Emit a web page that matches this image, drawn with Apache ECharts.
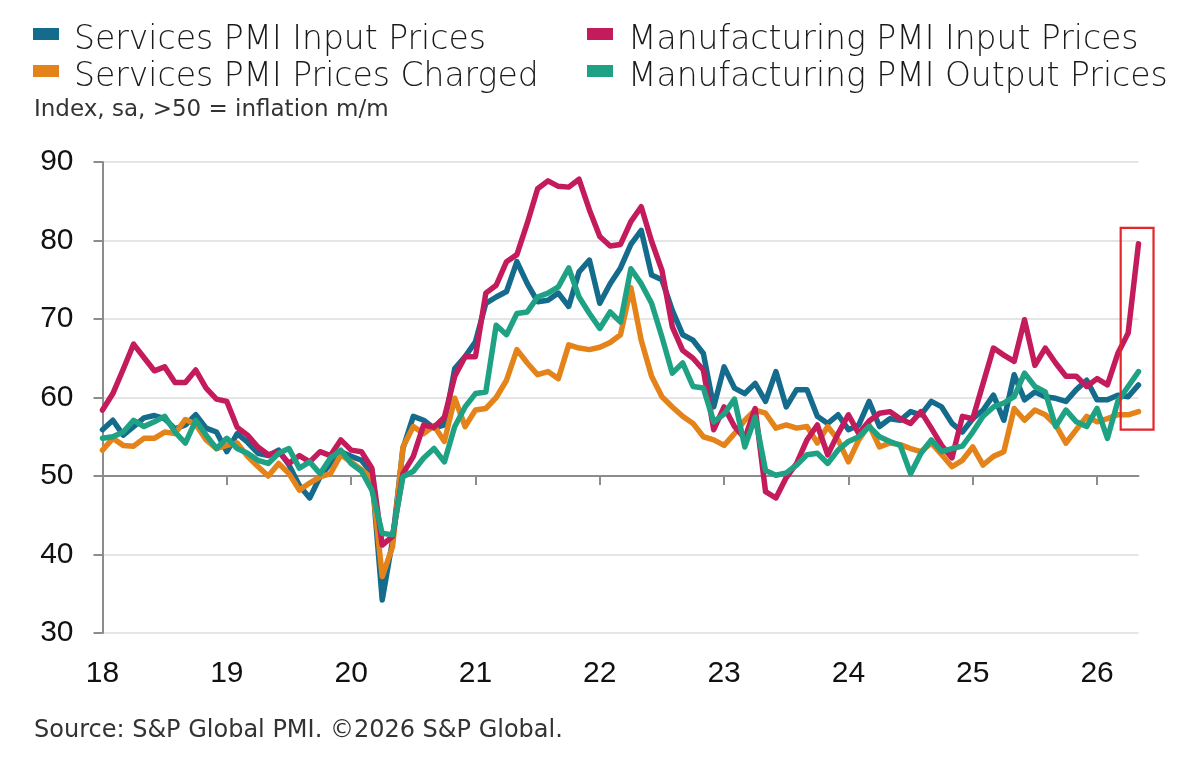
<!DOCTYPE html>
<html>
<head>
<meta charset="utf-8">
<script src="https://cdn.jsdelivr.net/npm/echarts@6/dist/echarts.min.js"></script>
<style>
html,body{margin:0;padding:0;background:#fff;}
#chart{width:1200px;height:766px;}
</style>
</head>
<body>
<div id="chart"></div>
<script>
// Monthly categories Jan 2018 .. May 2026
var startYear = 2018, nMonths = 101;
var categories = [];
for (var k = 0; k < nMonths; k++) {
  var y = startYear + Math.floor(k / 12), m = (k % 12) + 1;
  categories.push(y + '-' + (m < 10 ? '0' + m : m));
}
var yTicks = [30, 40, 50, 60, 70, 80, 90];

var servicesInput = [
  55.9, 57.1, 55.2, 56.3, 57.4, 57.7, 57.3, 56.0, 56.5, 57.8, 56.1, 55.6,
  53.1, 55.4, 54.3, 52.9, 52.6, 53.3, 51.4, 48.8, 47.2, 49.9, 51.6, 53.1,
  52.5, 52.0, 50.3, 34.2, 41.8, 53.5, 57.6, 57.1, 56.1, 56.5, 63.7, 65.2,
  67.1, 72.0, 72.8, 73.5, 77.3, 74.5, 72.2, 72.4, 73.3, 71.6, 76.0, 77.5,
  72.0, 74.5, 76.5, 79.5, 81.3, 75.6, 75.0, 71.1, 68.0, 67.3, 65.6, 58.8,
  63.9, 61.2, 60.5, 61.8, 59.5, 63.3, 58.8, 61.0, 61.0, 57.6, 56.7, 57.8,
  55.9, 56.5, 59.5, 56.3, 57.3, 57.1, 58.2, 57.8, 59.5, 58.8, 56.7, 55.6,
  57.3, 58.4, 60.3, 57.1, 62.9, 59.7, 60.7, 60.1, 59.9, 59.5, 61.0, 62.2,
  59.7, 59.7, 60.3, 60.1, 61.6
];
var servicesCharged = [
  53.3, 54.8, 53.9, 53.8, 54.8, 54.8, 55.6, 55.4, 57.2, 56.6, 54.6, 53.5,
  53.9, 54.2, 52.5, 51.2, 50.0, 51.6, 50.3, 48.2, 49.1, 49.9, 50.3, 52.7,
  51.8, 50.8, 49.7, 37.2, 41.0, 53.7, 56.3, 55.4, 56.4, 54.4, 59.9, 56.3,
  58.4, 58.6, 60.0, 62.2, 66.1, 64.4, 62.9, 63.3, 62.4, 66.7, 66.3, 66.1,
  66.4, 67.0, 68.0, 74.0, 67.3, 62.7, 60.1, 58.8, 57.6, 56.7, 55.0, 54.6,
  53.9, 55.4, 57.1, 58.4, 58.0, 56.1, 56.5, 56.1, 56.3, 54.2, 56.3, 54.6,
  51.8, 54.6, 56.5, 53.7, 54.2, 54.0, 53.5, 53.1, 54.2, 52.7, 51.2, 52.0,
  53.7, 51.4, 52.5, 53.1, 58.6, 57.1, 58.4, 57.8, 56.5, 54.2, 55.9, 57.6,
  56.9, 57.3, 57.8, 57.8, 58.2
];
var mfgInput = [
  58.4, 60.5, 63.6, 66.8, 65.1, 63.4, 63.9, 61.9, 61.9, 63.5, 61.2, 59.8,
  59.5, 56.2, 55.2, 53.7, 52.7, 53.1, 51.6, 52.6, 51.8, 53.1, 52.6, 54.6,
  53.3, 53.1, 51.0, 41.2, 42.3, 50.3, 52.5, 56.5, 56.2, 57.5, 62.7, 65.2,
  65.2, 73.3, 74.3, 77.3, 78.2, 82.2, 86.6, 87.6, 86.9, 86.8, 87.8, 83.9,
  80.5, 79.3, 79.5, 82.4, 84.3, 79.9, 76.2, 69.0, 66.0, 65.0, 63.5, 55.9,
  58.8, 56.3, 54.8, 58.6, 48.0, 47.2, 49.8, 51.6, 54.6, 56.5, 52.7, 55.4,
  57.8, 55.4, 57.0, 58.0, 58.2, 57.3, 56.7, 58.2, 56.1, 53.9, 52.3, 57.6,
  57.3, 61.8, 66.3, 65.4, 64.6, 69.9, 64.1, 66.3, 64.4, 62.7, 62.7, 61.4,
  62.4, 61.6, 65.6, 68.2, 79.6
];
var mfgOutput = [
  54.8, 55.0, 55.6, 57.1, 56.3, 56.9, 57.6, 55.6, 54.2, 57.1, 55.2, 53.5,
  54.8, 53.5, 52.9, 52.0, 51.6, 52.9, 53.5, 51.0, 51.8, 50.3, 52.3, 53.3,
  51.6, 50.6, 48.2, 42.7, 42.5, 49.9, 50.6, 52.3, 53.5, 51.8, 56.3, 58.8,
  60.5, 60.7, 69.2, 68.0, 70.7, 70.9, 72.8, 73.3, 74.1, 76.5, 72.8, 70.7,
  68.8, 70.9, 69.6, 76.4, 74.5, 72.0, 67.7, 63.1, 64.4, 61.4, 61.2, 56.9,
  57.9, 59.8, 53.7, 57.5, 50.7, 50.1, 50.4, 51.4, 52.7, 52.9, 51.6, 53.3,
  54.4, 55.0, 56.3, 55.0, 54.4, 53.9, 50.3, 52.9, 54.6, 53.1, 53.5, 53.8,
  55.6, 57.6, 58.8, 59.3, 60.1, 63.1, 61.4, 60.7, 56.3, 58.4, 56.9, 56.3,
  58.6, 54.8, 59.5, 61.4, 63.3
];

// highlighted window (last months) and its value range
var highlightFrom = 98, highlightTo = 100;
var highlightLow = 55.9, highlightHigh = 81.6;

var names = {
  si: 'Services PMI Input Prices',
  sc: 'Services PMI Prices Charged',
  mi: 'Manufacturing PMI Input Prices',
  mo: 'Manufacturing PMI Output Prices'
};
var colors = { si: '#146B8C', sc: '#E5831B', mi: '#C31B5B', mo: '#1FA283' };

var yMin = 30, yMax = 90, axisAt = 50;
var gridTop = 162, gridBottom = 133, gridLeft = 102.5, gridRight = 61.5;
var gridH = 766 - gridTop - gridBottom;
var axisOffset = -gridH * (axisAt - yMin) / (yMax - yMin);

var iconPath = 'path://M0,0h26v12h-26z M36,24 L36.01,24';
var legendText = { fontFamily: 'DejaVu Sans', fontWeight: 200, fontSize: 33, color: '#1a1a1a', lineHeight: 37 };

function yearTick(idx) { return idx % 12 === 0; }

function mkSeries(key, data) {
  return {
    name: names[key], type: 'line', data: data, xAxisIndex: 0,
    showSymbol: false, symbol: 'none', smooth: false,
    lineStyle: { width: 5.5, color: colors[key], join: 'round', cap: 'round' },
    itemStyle: { color: colors[key] },
    emphasis: { disabled: true }
  };
}

var chart = echarts.init(document.getElementById('chart'), null, { renderer: 'canvas' });
var option = {
  backgroundColor: '#ffffff',
  animation: false,
  title: [
    { text: 'Index, sa, >50 = inflation m/m', left: 29, top: 94,
      textStyle: { fontFamily: 'DejaVu Sans', fontSize: 23, fontWeight: 'normal', color: '#333' } },
    { text: 'Source: S&P Global PMI. \u00A92026 S&P Global.', left: 29, top: 714,
      textStyle: { fontFamily: 'DejaVu Sans', fontSize: 24, fontWeight: 'normal', color: '#333' } }
  ],
  legend: [
    { orient: 'vertical', left: 33, top: 21.5, itemGap: 0, itemWidth: 36, itemHeight: 24,
      icon: iconPath, selectedMode: false, padding: 0,
      data: [names.si, names.sc], textStyle: legendText },
    { orient: 'vertical', left: 587, top: 21.5, itemGap: 0, itemWidth: 36, itemHeight: 24,
      icon: iconPath, selectedMode: false, padding: 0,
      data: [names.mi, names.mo], textStyle: legendText }
  ],
  grid: { left: gridLeft, right: gridRight, top: gridTop, bottom: gridBottom, containLabel: false },
  xAxis: [
    { type: 'category', data: categories, boundaryGap: false,
      axisLine: { show: false }, axisTick: { show: false }, splitLine: { show: false },
      axisLabel: { interval: yearTick, margin: 26, fontFamily: 'Liberation Sans', fontSize: 30, color: '#111',
        formatter: function (v) { return v.slice(2, 4); } } },
    { type: 'category', data: categories, boundaryGap: false, position: 'bottom', offset: axisOffset,
      axisLine: { show: true, lineStyle: { color: '#8c8c8c', width: 2 } },
      axisTick: { show: true, interval: yearTick, length: 9, lineStyle: { color: '#8c8c8c', width: 2 } },
      axisLabel: { show: false }, splitLine: { show: false } }
  ],
  yAxis: {
    type: 'value', min: yMin, max: yMax, interval: 10,
    axisLine: { show: true, lineStyle: { color: '#8c8c8c', width: 2 } },
    axisTick: { show: true, length: 9, lineStyle: { color: '#8c8c8c', width: 2 } },
    splitLine: { show: true, lineStyle: { color: '#dcdcdc', width: 1.5 } },
    axisLabel: { margin: 29, fontFamily: 'Liberation Sans', fontSize: 30, color: '#111',
      formatter: function (v) { return yTicks.indexOf(v) >= 0 ? String(v) : ''; } }
  },
  series: [
    mkSeries('si', servicesInput),
    mkSeries('sc', servicesCharged),
    mkSeries('mi', mfgInput),
    mkSeries('mo', mfgOutput)
  ]
};
chart.setOption(option);

// highlight box around the latest readings, positioned from data coordinates
var p0 = chart.convertToPixel({ xAxisIndex: 0, yAxisIndex: 0 }, [highlightFrom, highlightHigh]);
var p1 = chart.convertToPixel({ xAxisIndex: 0, yAxisIndex: 0 }, [highlightTo, highlightLow]);
var pPrev = chart.convertToPixel({ xAxisIndex: 0, yAxisIndex: 0 }, [highlightTo - 1, highlightLow]);
var step = p1[0] - pPrev[0];
var bx0 = p0[0] + 0.28 * step, bx1 = p1[0] + 1.45 * step;
chart.setOption({
  graphic: [{
    type: 'rect', z: 100,
    shape: { x: bx0, y: p0[1], width: bx1 - bx0, height: p1[1] - p0[1] },
    style: { fill: 'none', stroke: '#E3262B', lineWidth: 2.2 }
  }]
});
</script>
</body>
</html>
